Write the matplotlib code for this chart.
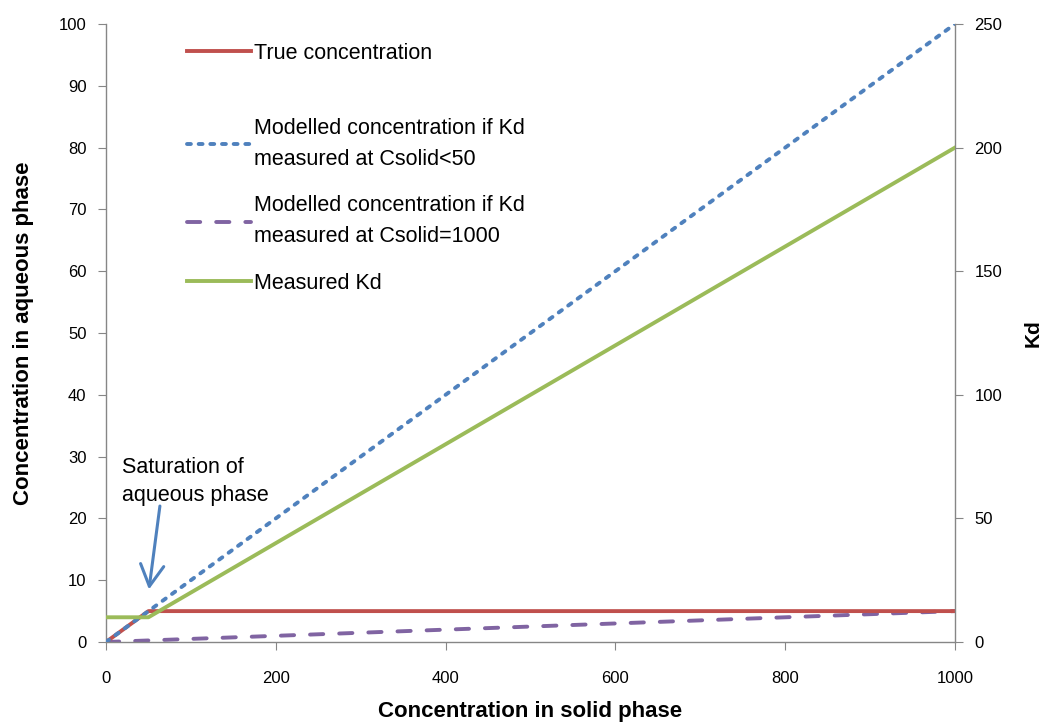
import matplotlib
matplotlib.use("Agg")
import matplotlib.pyplot as plt
from matplotlib.lines import Line2D

plt.rcParams["font.family"] = ["Liberation Sans", "DejaVu Sans"]

# ---------------------------------------------------------------------------
# Data
# ---------------------------------------------------------------------------
true_x = [0, 50, 1000]
true_y = [0, 5, 5]

kd50_x = [0, 1000]
kd50_y = [0, 100]

kd1000_x = [0, 1000]
kd1000_y = [0, 5]

kd_meas_x = [0, 50, 1000]
kd_meas_y = [10, 10, 200]

labels = [
    "True concentration",
    "Modelled concentration if Kd\nmeasured at Csolid<50",
    "Modelled concentration if Kd\nmeasured at Csolid=1000",
    "Measured Kd",
]

# ---------------------------------------------------------------------------
# Colours / styles
# ---------------------------------------------------------------------------
C_RED = "#C0504D"
C_BLUE = "#4F81BD"
C_PURPLE = "#8064A2"
C_GREEN = "#9BBB59"
C_AXIS = "#868686"

LW = 2.8
LS_DOT = (0, (1.0, 2.0))
LS_DASH = (0, (3.4, 4.1))

fig = plt.figure(figsize=(10.42, 7.22), dpi=100)
ax = fig.add_axes([106 / 1042, 1 - 642 / 722, (955 - 106) / 1042, (642 - 24) / 722])
ax2 = ax.twinx()

ax.plot(true_x, true_y, color=C_RED, lw=LW, solid_capstyle="butt", zorder=3)
ax.plot(kd50_x, kd50_y, color=C_BLUE, lw=LW, ls=LS_DOT,
        dash_capstyle="round", zorder=4)
ax.plot(kd1000_x, kd1000_y, color=C_PURPLE, lw=LW, ls=LS_DASH,
        dash_capstyle="round", zorder=2)
ax2.plot(kd_meas_x, kd_meas_y, color=C_GREEN, lw=LW, zorder=3)

ax.set_xlim(0, 1000)
ax.set_ylim(0, 100)
ax2.set_ylim(0, 250)
ax.set_xticks(range(0, 1001, 200))
ax.set_yticks(range(0, 101, 10))
ax2.set_yticks(range(0, 251, 50))

for a in (ax, ax2):
    a.spines["top"].set_visible(False)
    for s in a.spines.values():
        s.set_color(C_AXIS)
        s.set_linewidth(1.0)
ax.spines["right"].set_visible(False)
ax2.spines["left"].set_visible(False)
ax2.spines["bottom"].set_visible(False)

ax.tick_params(axis="x", direction="out", length=6, color=C_AXIS,
               labelsize=12, pad=15)
ax.tick_params(axis="y", direction="out", length=6, color=C_AXIS,
               labelsize=12, pad=8)
ax2.tick_params(axis="y", direction="out", length=6, color=C_AXIS,
                labelsize=12, pad=8)

ax.set_xlabel("Concentration in solid phase", fontsize=16, fontweight="bold",
              labelpad=11)
ax.set_ylabel("Concentration in aqueous phase", fontsize=16,
              fontweight="bold", labelpad=18)
ax2.set_ylabel("Kd", fontsize=15, fontweight="bold", labelpad=15)

# Annotation: text and arrow
ax.text(19, 30, "Saturation of\naqueous phase", fontsize=15.5,
        ha="left", va="top", linespacing=1.45)
ax.annotate("", xy=(50.6, 8.5), xytext=(63.5, 22.0),
            arrowprops=dict(arrowstyle="->,head_length=0.55,head_width=0.3",
                            color=C_BLUE, lw=2.2, shrinkA=0, shrinkB=0,
                            mutation_scale=28))

handles = [
    Line2D([], [], color=C_RED, lw=LW),
    Line2D([], [], color=C_BLUE, lw=LW, ls=LS_DOT, dash_capstyle="round"),
    Line2D([], [], color=C_PURPLE, lw=LW, ls=LS_DASH, dash_capstyle="round"),
    Line2D([], [], color=C_GREEN, lw=LW),
]
leg_kw = dict(frameon=False, fontsize=15.5, handlelength=3.0,
              handletextpad=0.15, borderpad=0, borderaxespad=0)

# first entry sits apart from the others, as in the original
leg1 = ax2.legend(handles[:1], labels[:1], loc="center left",
                  bbox_to_anchor=(0.095, 0.953), **leg_kw)
ax2.add_artist(leg1)
leg2 = ax2.legend(handles[1:], labels[1:], loc="upper left",
                  bbox_to_anchor=(0.095, 0.848), labelspacing=1.2, **leg_kw)
for t in leg2.get_texts():
    t.set_linespacing(1.6)

fig.savefig("out.png", dpi=100)
